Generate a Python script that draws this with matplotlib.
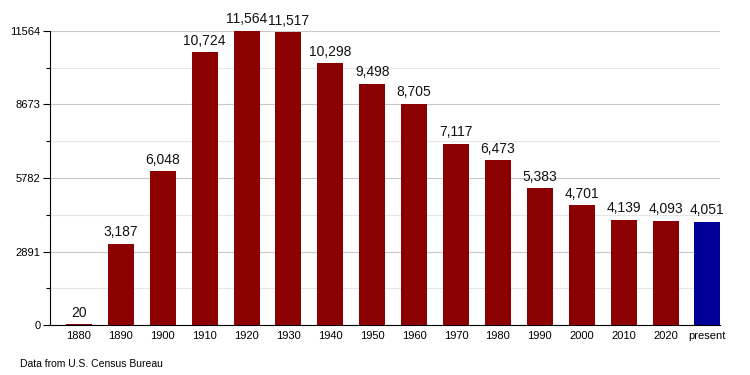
import matplotlib
matplotlib.use("Agg")
import matplotlib.pyplot as plt
from matplotlib.ticker import MultipleLocator

plt.rcParams['font.family'] = ['Liberation Sans', 'DejaVu Sans']

years = ["1880", "1890", "1900", "1910", "1920", "1930", "1940", "1950",
         "1960", "1970", "1980", "1990", "2000", "2010", "2020", "present"]
population = [20, 3187, 6048, 10724, 11564, 11517, 10298, 9498,
              8705, 7117, 6473, 5383, 4701, 4139, 4093, 4051]
yticks = [0, 2891, 5782, 8673, 11564]

colors = ["#8b0000"] * (len(years) - 1) + ["#000099"]

fig = plt.figure(figsize=(7.5, 3.75), dpi=100)
ax = fig.add_axes([50/750, 1 - 325/375, 670/750, 294/375])

x = list(range(len(years)))
ax.bar(x, population, width=0.62, color=colors, zorder=3)

for xi, v in zip(x, population):
    ax.text(xi, v + 180, f"{v:,}", ha="center", va="bottom", fontsize=10, color="#111111")

ax.set_xlim(-0.69, 15.3)
ax.set_ylim(0, 11564)
ax.set_yticks(yticks)
ax.set_yticklabels([str(t) for t in yticks])
ax.yaxis.set_minor_locator(MultipleLocator(2891 / 2))
ax.set_xticks(x)
ax.set_xticklabels(years)

ax.grid(axis="y", which="major", color="#c8c8c8", linewidth=0.8, zorder=0)
ax.grid(axis="y", which="minor", color="#e6e6e6", linewidth=0.8, zorder=0)

for side in ["top", "right"]:
    ax.spines[side].set_visible(False)
ax.spines["left"].set_color("black")
ax.spines["bottom"].set_color("black")
ax.spines["left"].set_linewidth(0.8)
ax.spines["bottom"].set_linewidth(0.8)

ax.tick_params(axis="y", which="major", length=5, width=0.8, labelsize=8, pad=2)
ax.tick_params(axis="y", which="minor", length=3, width=0.8)
ax.tick_params(axis="x", length=0, labelsize=8, pad=4)

fig.text(20/750, 1 - 364/375, "Data from U.S. Census Bureau", fontsize=7.5, va="center", ha="left")

fig.savefig("out.png", dpi=100)
